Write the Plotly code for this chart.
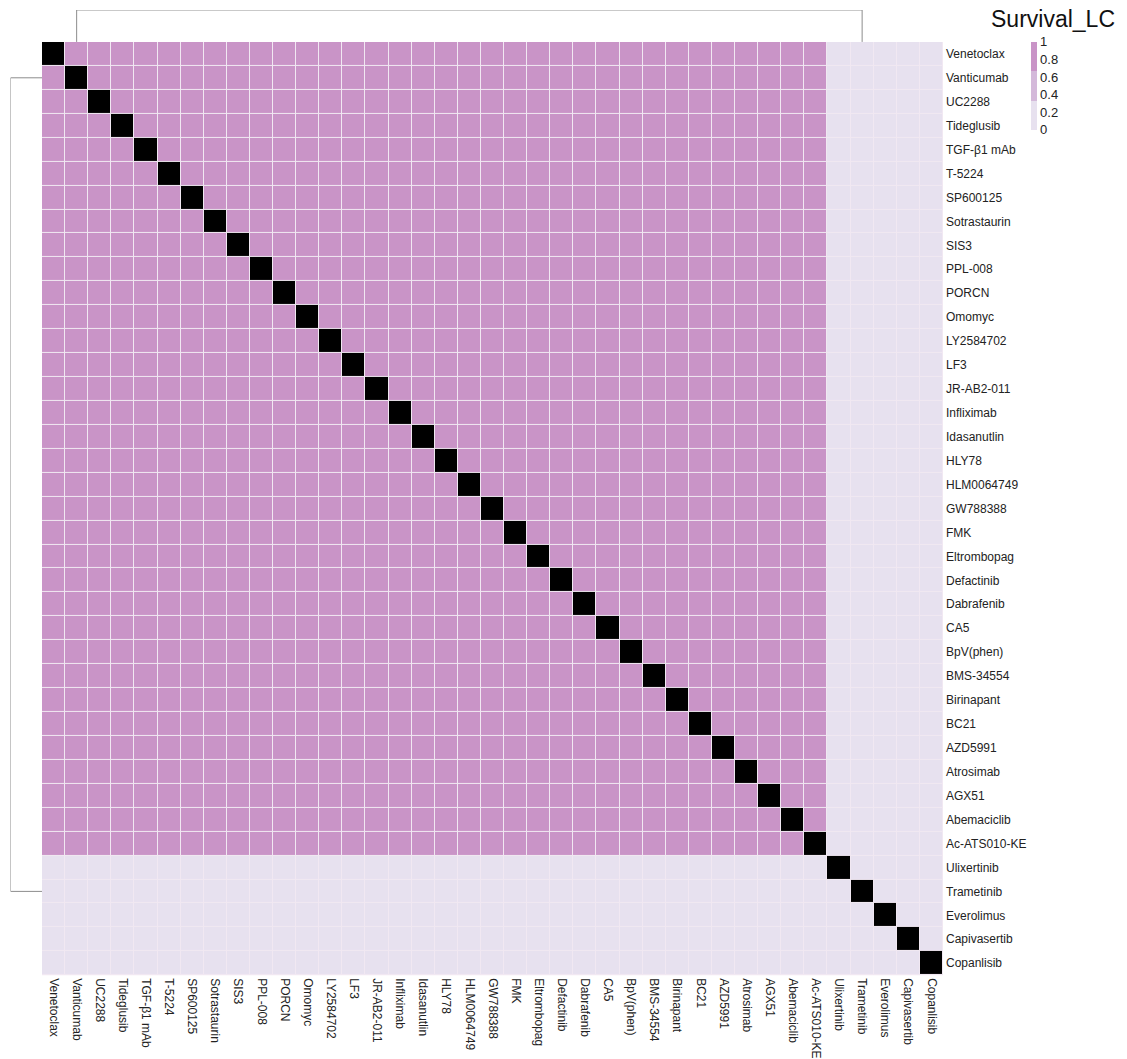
import plotly.graph_objects as go

# Drugs in clustered order (rows top-to-bottom, columns left-to-right)
drugs = [
    "Venetoclax", "Vanticumab", "UC2288", "Tideglusib", "TGF-β1 mAb", "T-5224",
    "SP600125", "Sotrastaurin", "SIS3", "PPL-008", "PORCN", "Omomyc",
    "LY2584702", "LF3", "JR-AB2-011", "Infliximab", "Idasanutlin", "HLY78",
    "HLM0064749", "GW788388", "FMK", "Eltrombopag", "Defactinib", "Dabrafenib",
    "CA5", "BpV(phen)", "BMS-34554", "Birinapant", "BC21", "AZD5991",
    "Atrosimab", "AGX51", "Abemaciclib", "Ac-ATS010-KE", "Ulixertinib",
    "Trametinib", "Everolimus", "Capivasertib", "Copanlisib",
]

# Cluster membership of each drug (1 = main cluster, 2 = second cluster)
cluster = [1] * 34 + [2] * 5

# Pairwise similarity: 1 within the main cluster, 0 otherwise; diagonal left empty
n = len(drugs)
similarity = [[(1.0 if (cluster[i] == 1 and cluster[j] == 1) else 0.0) if i != j else None
               for j in range(n)] for i in range(n)]
self_pairs = [[1.0 if i == j else None for j in range(n)] for i in range(n)]

# Dendrogram merge of the two clusters (leaf positions and merge height)
dendro_leaves = ["Vanticumab", "Trametinib"]
dendro_height = 1.0

colorbar_ticks = [0, 0.2, 0.4, 0.6, 0.8, 1]

W, H = 1127, 1059
x0, x1 = 42 / W, 943 / W
y_top, y_bot = 1 - 42 / H, 1 - 977 / H
font_family = "Liberation Sans, Arial, sans-serif"

fig = go.Figure()

fig.add_trace(go.Heatmap(
    z=similarity, x=drugs, y=drugs,
    zmin=0, zmax=1,
    colorscale=[[0, "#E7E1EF"], [1 / 3, "#E7E1EF"], [1 / 3, "#D4B9DA"],
                [2 / 3, "#D4B9DA"], [2 / 3, "#C994C7"], [1, "#C994C7"]],
    xgap=1, ygap=1,
    hoverongaps=False,
    colorbar=dict(
        thickness=6, len=88 / H, lenmode="fraction",
        x=1031 / W, xanchor="left", xpad=0,
        y=y_top, yanchor="top", ypad=0,
        tickvals=colorbar_ticks, ticktext=[f"{t:g}" for t in colorbar_ticks],
        ticks="", outlinewidth=0,
        tickfont=dict(size=13, color="#222", family=font_family),
    ),
))

fig.add_trace(go.Heatmap(
    z=self_pairs, x=drugs, y=drugs,
    zmin=0, zmax=1,
    colorscale=[[0, "#000000"], [1, "#000000"]],
    showscale=False, xgap=1, ygap=1, hoverongaps=False,
))

# Column dendrogram (top)
fig.add_trace(go.Scatter(
    x=[dendro_leaves[0], dendro_leaves[0], dendro_leaves[1], dendro_leaves[1]],
    y=[0, dendro_height, dendro_height, 0],
    xaxis="x", yaxis="y2", mode="lines",
    line=dict(color="#8c8c8c", width=1), hoverinfo="skip", showlegend=False,
    cliponaxis=False,
))

# Row dendrogram (left)
fig.add_trace(go.Scatter(
    x=[0, dendro_height, dendro_height, 0],
    y=[dendro_leaves[0], dendro_leaves[0], dendro_leaves[1], dendro_leaves[1]],
    xaxis="x2", yaxis="y", mode="lines",
    line=dict(color="#8c8c8c", width=1), hoverinfo="skip", showlegend=False,
    cliponaxis=False,
))

fig.update_layout(
    width=W, height=H,
    margin=dict(l=0, r=0, t=0, b=0),
    paper_bgcolor="white",
    plot_bgcolor="white",
    font=dict(family=font_family, color="#222"),
    xaxis=dict(
        domain=[x0, x1], anchor="y", side="bottom",
        categoryorder="array", categoryarray=drugs,
        range=[-0.5, n - 0.5],
        tickangle=90, ticks="", showgrid=False, zeroline=False,
        tickfont=dict(size=12, family=font_family, color="#222"),
        showline=False, ticklabelstandoff=2,
    ),
    yaxis=dict(
        domain=[y_bot, y_top], anchor="x", side="right",
        categoryorder="array", categoryarray=drugs,
        range=[n - 0.5, -0.5],
        ticks="", showgrid=False, zeroline=False,
        tickfont=dict(size=12, family=font_family, color="#222"),
        showline=False, ticklabelstandoff=2,
    ),
    yaxis2=dict(
        domain=[y_top, 1 - 10 / H], anchor="x", range=[0, dendro_height],
        visible=False, fixedrange=True,
    ),
    xaxis2=dict(
        domain=[10.5 / W, x0], anchor="y", range=[dendro_height, 0],
        visible=False, fixedrange=True,
    ),
    # soft tint behind the heatmap so the cell separators read as faint lines
    shapes=[dict(
        type="rect", xref="x domain", yref="y domain",
        x0=0, x1=1, y0=0, y1=1, layer="below",
        fillcolor="#F1E8F2", line=dict(width=0),
    )],
    annotations=[dict(
        text="Survival_LC", xref="paper", yref="paper",
        x=1117 / W, y=1 - 19 / H, xanchor="right", yanchor="middle",
        showarrow=False, font=dict(size=23, family=font_family, color="#111"),
    )],
)

fig.write_html("out.html")
